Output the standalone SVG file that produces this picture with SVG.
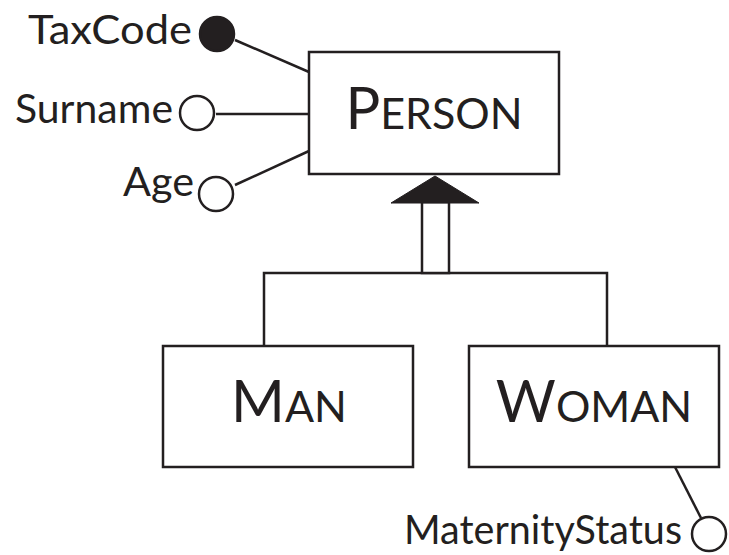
<svg xmlns="http://www.w3.org/2000/svg" width="729" height="555" viewBox="0 0 729 555">
<style>
.box{fill:#fff;stroke:#231f20;stroke-width:2.5}
.ln{fill:none;stroke:#231f20;stroke-width:2.5}
.attr{fill:#fff;stroke:#231f20;stroke-width:2.5}
.key{fill:#231f20;stroke:#231f20;stroke-width:2.5}
.lbl{font-family:Lato,"Liberation Sans",sans-serif;font-size:41px;fill:#231f20}
.ent{font-family:Lato,"Liberation Sans",sans-serif;font-size:43px;fill:#231f20}
.cap{font-size:58px}
</style>
<rect width="729" height="555" fill="#fff"/>
<g id="connectors">
<line class="ln" x1="235" y1="40" x2="309" y2="72"/>
<line class="ln" x1="216" y1="114" x2="309" y2="114"/>
<line class="ln" x1="235" y1="185" x2="309" y2="151"/>
<line class="ln" x1="675" y1="467" x2="701" y2="518"/>
<polyline class="ln" points="264,346 264,273 607,273 607,346"/>
<rect class="box" x="422" y="202" width="27" height="71"/>
<polygon fill="#231f20" stroke="#231f20" stroke-width="1" points="435,176 479,203 391,203"/>
</g>
<g id="person">
<rect class="box" x="309" y="52" width="250" height="122"/>
<text class="ent" x="434" y="129" text-anchor="middle"><tspan class="cap">P</tspan>ERSON</text>
</g>
<g id="man">
<rect class="box" x="163" y="346" width="250" height="121"/>
<text class="ent" x="289" y="422" text-anchor="middle"><tspan class="cap">M</tspan>AN</text>
</g>
<g id="woman">
<rect class="box" x="469" y="346" width="250" height="121"/>
<text class="ent" x="594" y="422" text-anchor="middle"><tspan class="cap">W</tspan>OMAN</text>
</g>
<g id="taxcode">
<circle class="key" cx="217" cy="34" r="17"/>
<text class="lbl" x="28" y="44" textLength="164" lengthAdjust="spacingAndGlyphs">TaxCode</text>
</g>
<g id="surname">
<circle class="attr" cx="197" cy="113" r="17"/>
<text class="lbl" x="15" y="123" textLength="158" lengthAdjust="spacingAndGlyphs">Surname</text>
</g>
<g id="age">
<circle class="attr" cx="216" cy="194" r="17"/>
<text class="lbl" x="123" y="196" textLength="71" lengthAdjust="spacingAndGlyphs">Age</text>
</g>
<g id="maternitystatus">
<circle class="attr" cx="709" cy="534" r="17"/>
<text class="lbl" x="404" y="544" textLength="278" lengthAdjust="spacingAndGlyphs">MaternityStatus</text>
</g>
</svg>
